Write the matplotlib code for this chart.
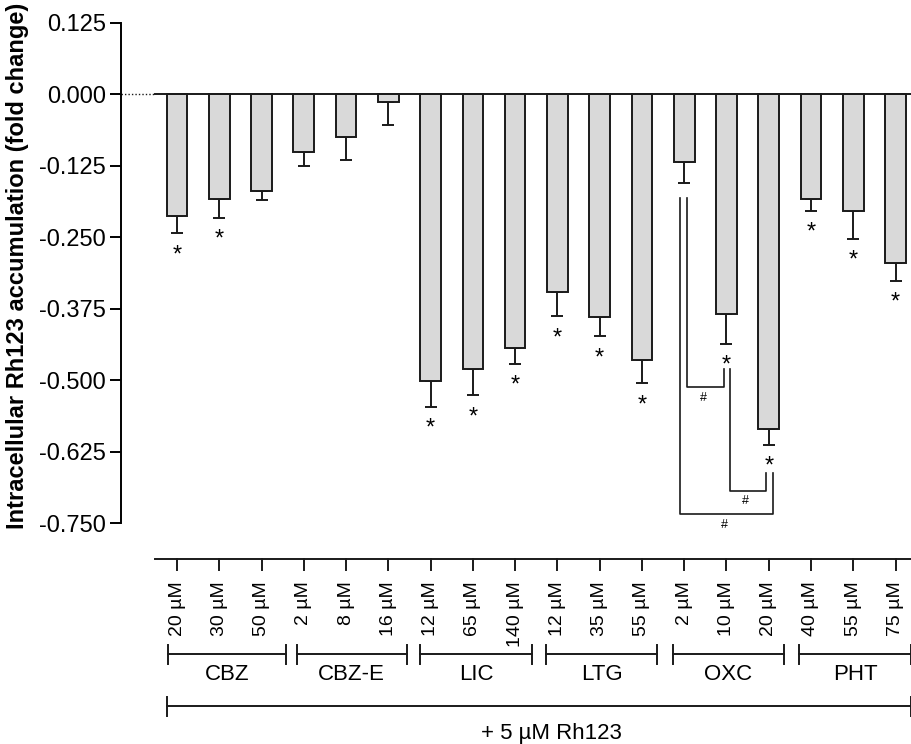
import numpy as np
import matplotlib
matplotlib.use("Agg")
import matplotlib.pyplot as plt
import matplotlib.transforms as mtransforms

plt.rcParams["font.family"] = ["Liberation Sans", "DejaVu Sans"]

# data
doses = ["20 µM", "30 µM", "50 µM", "2 µM", "8 µM", "16 µM",
         "12 µM", "65 µM", "140 µM", "12 µM", "35 µM", "55 µM",
         "2 µM", "10 µM", "20 µM", "40 µM", "55 µM", "75 µM"]
drugs = ["CBZ", "CBZ-E", "LIC", "LTG", "OXC", "PHT"]
means = [-0.213, -0.183, -0.169, -0.101, -0.075, -0.0135,
         -0.501, -0.480, -0.443, -0.345, -0.389, -0.465,
         -0.118, -0.385, -0.585, -0.183, -0.204, -0.295]
sem = [0.030, 0.033, 0.016, 0.024, 0.040, 0.040,
       0.045, 0.046, 0.028, 0.043, 0.034, 0.040,
       0.038, 0.051, 0.028, 0.021, 0.049, 0.031]
significant = [1, 1, 0, 0, 0, 0, 1, 1, 1, 1, 1, 1, 0, 1, 1, 1, 1, 1]
# OXC pairwise comparisons marked with '#'
comparisons = [(12, 13), (13, 14), (12, 14)]

W, H = 912, 744
fig = plt.figure(figsize=(W / 100, H / 100), dpi=100)
ax = fig.add_axes([121 / W, (H - 523.3) / H, 791 / W, 500.6 / H])

x = np.arange(len(means))
lw = 1.4

ax.bar(x, means, width=0.49, color="#d9d9d9", edgecolor="#1a1a1a",
       linewidth=lw, zorder=3)
ax.errorbar(x, means, yerr=[sem, np.zeros(len(sem))], fmt="none",
            ecolor="#1a1a1a", elinewidth=lw, capsize=4, capthick=lw, zorder=2)

# zero line: dotted near the axis, then solid
ax.plot([-1.33, -0.52], [0, 0], color="#1a1a1a", lw=1.0, ls=(0, (1, 1.5)),
        clip_on=False, zorder=1)
ax.plot([-0.52, 17.4], [0, 0], color="#1a1a1a", lw=lw, clip_on=False, zorder=4)

ax.set_xlim(-1.325, 17.39)
ax.set_ylim(-0.75, 0.125)
yt = np.arange(-0.75, 0.126, 0.125)
ax.set_yticks(yt)
ax.set_yticklabels([f"{v:.3f}" for v in yt], fontsize=17)
ax.tick_params(axis="y", length=8, width=lw, pad=3)
ax.set_xticks([])
for s in ["top", "right", "bottom"]:
    ax.spines[s].set_visible(False)
ax.spines["left"].set_linewidth(lw)
ax.spines["left"].set_bounds(-0.75, 0.125)
ax.patch.set_alpha(0)

ax.set_ylabel("Intracellular Rh123 accumulation (fold change)", fontsize=17,
              fontweight="bold")
ax.yaxis.set_label_coords((18 - 121) / 791, (523.3 - 266) / 500.6)
ax.yaxis.label.set_va("center")

# significance stars below the error bars
for xi, m, e, s in zip(x, means, sem, significant):
    if s:
        ax.annotate("*", (xi, m - e), xytext=(0, -11), textcoords="offset pixels",
                    ha="center", va="top", fontsize=17, zorder=5)

# '#' brackets between OXC doses
bracket_layout = [
    (12.07, 12.95, -0.181, -0.480, -0.512),
    (13.08, 13.93, -0.480, -0.662, -0.693),
    (11.90, 14.09, -0.181, -0.662, -0.734),
]
for (a, b), (x0, x1, yl, yr, yb) in zip(comparisons, bracket_layout):
    ax.plot([x0, x0, x1, x1], [yl, yb, yb, yr], color="#1a1a1a", lw=1.2,
            clip_on=False)
    ax.text((x0 + x1) / 2 - 0.05, yb - 0.008, "#", ha="center", va="top",
            fontsize=9, clip_on=False)

# category axis drawn below the plot (x in data, y in figure pixels)
blend = mtransforms.blended_transform_factory(ax.transData, fig.transFigure)


def fy(py):
    return 1 - py / H


line_kw = dict(color="#1a1a1a", lw=lw, transform=blend, clip_on=False)
ax.plot([-0.52, 17.4], [fy(559.3), fy(559.3)], **line_kw)
for xi, d in zip(x, doses):
    ax.plot([xi, xi], [fy(559.3), fy(570)], **line_kw)
    ax.text(xi, fy(581), d, rotation=90, ha="center", va="top", fontsize=14,
            transform=blend)

group_spans = [(-0.22, 2.58), (2.83, 5.44), (5.74, 8.41),
               (8.73, 11.36), (11.73, 14.36), (14.72, 17.36)]
for name, (g0, g1) in zip(drugs, group_spans):
    ax.plot([g0, g1], [fy(654.3), fy(654.3)], **line_kw)
    for gx in (g0, g1):
        ax.plot([gx, gx], [fy(645), fy(664)], **line_kw)
    ax.text((g0 + g1) / 2, fy(675), name, ha="center", va="center",
            fontsize=16, transform=blend)

r0, r1 = -0.244, 17.36
ax.plot([r0, r1], [fy(705.7), fy(705.7)], **line_kw)
for gx in (r0, r1):
    ax.plot([gx, gx], [fy(696.7), fy(716)], **line_kw)
ax.text(8.85, fy(734), "+ 5 µM Rh123", ha="center", va="center", fontsize=16,
        transform=blend)

fig.savefig("out.png", dpi=100)
